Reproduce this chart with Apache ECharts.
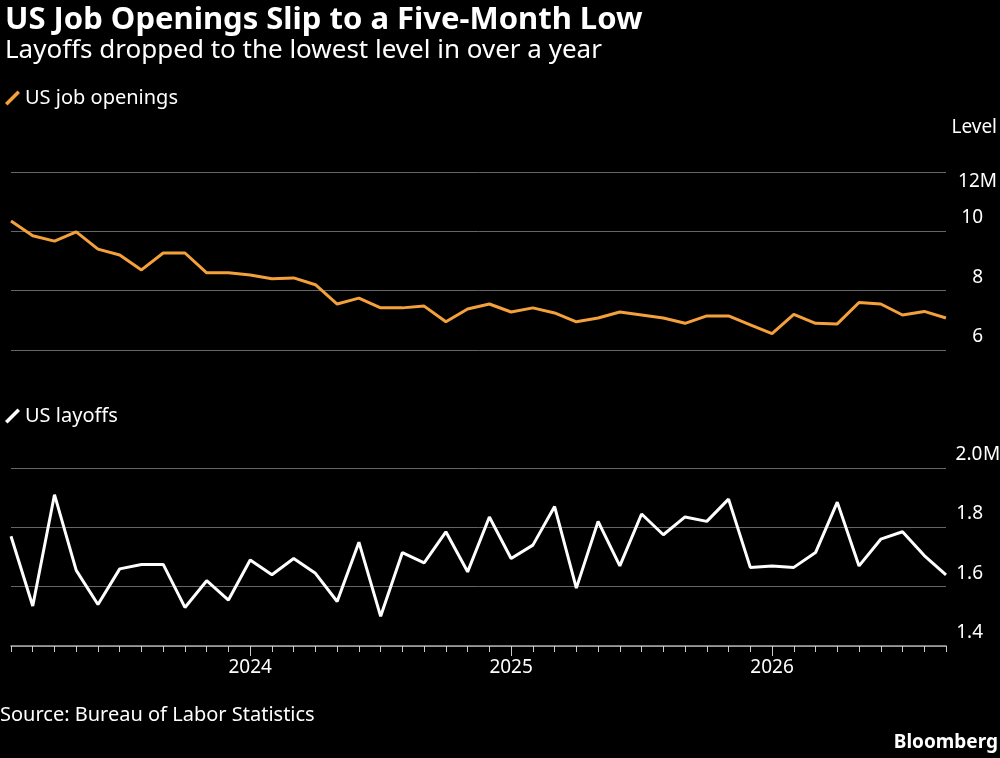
<!DOCTYPE html>
<html><head><meta charset="utf-8">
<script src="https://cdn.jsdelivr.net/npm/echarts@6/dist/echarts.min.js"></script>
<style>html,body{margin:0;background:#000}#c{width:1000px;height:758px}</style>
</head><body><div id="c"></div>
<script>
const months = [];
for (let i = 0; i < 44; i++) { const m = (1 + i) % 12; const y = 2023 + Math.floor((1 + i) / 12); months.push(y + '-' + String(m + 1).padStart(2, '0')); }
const openings = [10.35,9.85,9.67,9.98,9.4,9.2,8.7,9.27,9.27,8.6,8.6,8.53,8.4,8.43,8.2,7.55,7.75,7.42,7.42,7.48,6.95,7.38,7.55,7.28,7.42,7.25,6.95,7.08,7.28,7.18,7.08,6.9,7.15,7.15,6.85,6.55,7.2,6.9,6.88,7.6,7.55,7.18,7.3,7.08];
const layoffs = [1.77,1.535,1.91,1.655,1.54,1.66,1.675,1.675,1.53,1.62,1.555,1.69,1.64,1.695,1.645,1.55,1.75,1.5,1.715,1.68,1.785,1.65,1.835,1.695,1.74,1.87,1.595,1.82,1.67,1.845,1.775,1.835,1.82,1.895,1.665,1.67,1.665,1.715,1.885,1.67,1.76,1.785,1.705,1.64];
const openTicks = [6,8,10,12];
const layTicks = [1.4,1.6,1.8,2.0];
const F = '"Noto Sans", sans-serif';
const ORANGE = '#f5a13b';
const slash = 'path://M0,10 L10,0 L12,2 L2,12 Z';
const isJan = (i) => months[i].endsWith('-01');
const yLab = (top, dec) => ({
  color: '#fff', fontFamily: F, fontSize: 19, align: 'left', verticalAlign: 'bottom',
  margin: 9, showMaxLabel: top !== 12,
  formatter: (v) => '{n|' + v.toFixed(dec) + '}' + (Math.abs(v - top) < 1e-9 ? '{m|M}' : ''),
  rich: { n: { width: 28, align: 'right', color: '#fff', fontFamily: F, fontSize: 19, padding:[0,0,4,0] },
          m: { color: '#fff', fontFamily: F, fontSize: 19, padding:[0,0,4,0] } }
});
const chart = echarts.init(document.getElementById('c'));
chart.setOption({
  backgroundColor: '#000',
  animation: false,
  title: [
    { text: 'US Job Openings Slip to a Five-Month Low', left: 0, top: 0, textStyle: { color: '#fff', fontFamily: F, fontSize: 31, fontWeight: 'bold' } },
    { text: 'Layoffs dropped to the lowest level in over a year', left: 0, top: 33, textStyle: { color: '#fff', fontFamily: F, fontSize: 26, fontWeight: 'normal' } }
  ],
  legend: [
    { data: ['US job openings'], left: 0, top: 83, icon: slash, itemWidth: 15, itemHeight: 15, itemGap: 6,
      textStyle: { color: '#fff', fontFamily: F, fontSize: 20 }, selectedMode: false },
    { data: ['US layoffs'], left: 0, top: 401, icon: slash, itemWidth: 15, itemHeight: 15,
      textStyle: { color: '#fff', fontFamily: F, fontSize: 20 }, selectedMode: false }
  ],
  graphic: [
    { type: 'text', right: 3, top: 118, style: { text: 'Level', fill: '#fff', font: '19px ' + F } },
    { type: 'text', right: 3, top: 172, style: { text: '12M', fill: '#fff', font: '19px ' + F } },
    { type: 'text', left: 0, top: 705, style: { text: 'Source: Bureau of Labor Statistics', fill: '#fff', font: '20px ' + F } },
    { type: 'text', right: 2, top: 733, style: { text: 'Bloomberg', fill: '#fff', font: 'bold 19px ' + F } }
  ],
  grid: [
    { left: 11, right: 54, top: 172, height: 178, outerBoundsMode: 'none' },
    { left: 11, right: 54, top: 468, height: 178, outerBoundsMode: 'none' }
  ],
  xAxis: [
    { type: 'category', gridIndex: 0, data: months, boundaryGap: false, show: false },
    { type: 'category', gridIndex: 1, data: months, boundaryGap: false,
      axisLine: { lineStyle: { color: '#aaa', width: 1.5 } },
      axisTick: { interval: (i) => !isJan(i), length: 6, lineStyle: { color: '#ccc' } },
      axisLabel: { show: false } },
    { type: 'category', gridIndex: 1, data: months, boundaryGap: false, position: 'bottom',
      axisLine: { show: false },
      axisTick: { interval: (i) => isJan(i), length: 10, lineStyle: { color: '#ccc' } },
      axisLabel: { interval: (i) => isJan(i), formatter: (v) => v.slice(0, 4), color: '#fff', fontFamily: F, fontSize: 19, margin: 12 } }
  ],
  yAxis: [
    { type: 'value', gridIndex: 0, position: 'right', min: openTicks[0], max: openTicks[3], interval: 2,
      splitLine: { lineStyle: { color: '#666' } }, axisLine: { show: false }, axisTick: { show: false },
      axisLabel: yLab(12, 0) },
    { type: 'value', gridIndex: 1, position: 'right', min: layTicks[0], max: layTicks[3], interval: 0.2,
      splitLine: { lineStyle: { color: '#666' } }, axisLine: { show: false }, axisTick: { show: false },
      axisLabel: yLab(2.0, 1) }
  ],
  series: [
    { name: 'US job openings', type: 'line', xAxisIndex: 0, yAxisIndex: 0, data: openings, showSymbol: false, itemStyle: { color: ORANGE }, lineStyle: { color: ORANGE, width: 3 } },
    { name: 'US layoffs', type: 'line', xAxisIndex: 1, yAxisIndex: 1, data: layoffs, showSymbol: false, itemStyle: { color: '#fff' }, lineStyle: { color: '#fff', width: 3 } }
  ]
});
</script></body></html>
